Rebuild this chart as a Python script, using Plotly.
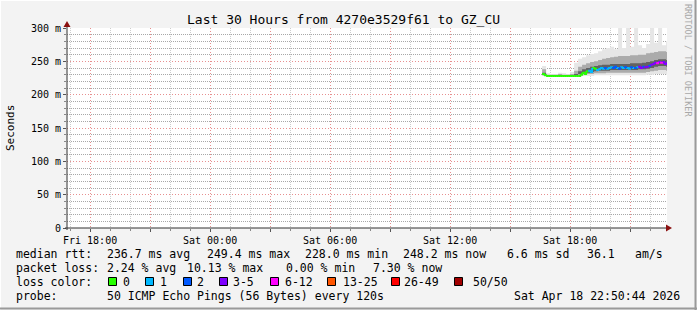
import plotly.graph_objects as go
import pandas as pd

# ---------------- data ----------------
T_START = "2026-04-17 16:50:44"
T_END = "2026-04-18 22:50:44"

# median RTT (ms), one value every 6 minutes
median_start = "2026-04-18 16:36:00"
median_ms = [231, 229,
             228, 228, 228, 228, 228, 228, 228, 228, 228, 228, 228, 228, 228, 228, 228, 228, 228,
             230, 233, 231, 235, 236, 234, 240, 239, 237, 238, 240, 239, 240, 239, 240, 241,
             240, 242, 240, 239, 241, 240, 241, 240, 239, 241, 240, 240, 241, 242, 240, 242,
             241, 242, 243, 245, 246, 248, 247, 249, 248, 249, 246, 248]
# loss class index into loss_labels for each median value
median_loss = [0, 0,
               0, 0, 0, 0, 0, 0, 0, 0, 0, 0, 0, 0, 0, 0, 0, 0, 0,
               0, 0, 0, 0, 1, 1, 0, 0, 1, 1, 1, 1, 2, 1, 1, 1,
               2, 2, 1, 2, 1, 1, 2, 1, 1, 2, 1, 2, 1, 3, 3, 2,
               3, 3, 2, 3, 3, 3, 4, 3, 4, 3, 3, 3]

# smoke (distribution of the 50 pings), one column every 12 minutes
smoke_start = "2026-04-18 16:36:00"
smoke_min = [228, 227, 227, 227, 227, 227, 227, 227, 227, 227, 228, 228, 228, 229, 229, 229,
             229, 229, 229, 229, 229, 229, 229, 229, 229, 229, 230, 230, 231, 231, 231, 230]
smoke_p10 = [229, 228, 228, 228, 228, 228, 228, 228, 228, 229, 230, 231, 231, 232, 232, 232,
             233, 233, 233, 233, 233, 233, 233, 233, 233, 233, 234, 235, 236, 237, 237, 236]
smoke_q1 = [230, 228, 228, 228, 228, 228, 228, 228, 229, 231, 232, 233, 234, 235, 236, 236,
            236, 237, 237, 237, 237, 237, 237, 237, 238, 238, 239, 240, 242, 243, 243, 242]
smoke_q3 = [233, 229, 229, 229, 229, 229, 229, 229, 231, 235, 238, 240, 242, 243, 244, 245,
            245, 246, 246, 246, 246, 246, 247, 247, 247, 248, 249, 250, 252, 253, 253, 252]
smoke_p90 = [238, 230, 230, 230, 231, 230, 230, 231, 236, 242, 245, 247, 249, 250, 252, 254,
             255, 256, 257, 258, 258, 258, 259, 259, 260, 260, 262, 263, 264, 265, 265, 264]
smoke_max = [243, 232, 231, 231, 233, 232, 231, 234, 248, 254, 256, 259, 261, 262, 265, 268,
             270, 272, 268, 300, 270, 300, 272, 300, 274, 270, 276, 300, 278, 300, 274, 280]

loss_labels = ["0", "1", "2", "3-5", "6-12", "13-25", "26-49", "50/50"]
loss_colors = ["#26ff00", "#00b8ff", "#0059ff", "#7e00ff", "#ff00ff", "#ff5500", "#ff0000", "#a10000"]

ytick_vals = [0, 50, 100, 150, 200, 250, 300]
ytick_text = ["0", "50 m", "100 m", "150 m", "200 m", "250 m", "300 m"]

xtick_vals = ["2026-04-17 18:00", "2026-04-17 21:00", "2026-04-18 00:00", "2026-04-18 03:00",
              "2026-04-18 06:00", "2026-04-18 09:00", "2026-04-18 12:00", "2026-04-18 15:00",
              "2026-04-18 18:00", "2026-04-18 21:00"]
xtick_text = ["Fri 18:00", "", "Sat 00:00", "", "Sat 06:00", "", "Sat 12:00", "", "Sat 18:00", ""]

title_text = "Last 30 Hours from 4270e3529f61 to GZ_CU"
rtt_items = ["median rtt:", "236.7 ms avg", "249.4 ms max", "228.0 ms min", "248.2 ms now",
             "6.6 ms sd", "36.1", "am/s"]
loss_items = ["packet loss:", "2.24 % avg", "10.13 % max", "0.00 % min", "7.30 % now"]
probe_items = ["probe:", "50 ICMP Echo Pings (56 Bytes) every 120s"]
stamp_text = "Sat Apr 18 22:50:44 2026"

# ---------------- geometry (pixels) ----------------
W, H = 697, 310
PL, PR, PT, PB = 67, 667, 28, 228
FONT = "DejaVu Sans Mono"


def px(x):
    return (x - PL) / (PR - PL)


def py(y):
    return (PB - y) / (PB - PT)


fig = go.Figure()

# smoke bands
t_smk = list(pd.date_range(smoke_start, periods=len(smoke_min), freq="12min")) + [pd.Timestamp(T_END)]
bands = [(smoke_min, smoke_max, "#e6e6e6"),
         (smoke_p10, smoke_p90, "#ababab"),
         (smoke_q1, smoke_q3, "#626262")]
for lo, hi, col in bands:
    fig.add_trace(go.Scatter(x=t_smk, y=lo + [lo[-1]], mode="lines", line=dict(width=0, shape="hv"),
                             hoverinfo="skip"))
    fig.add_trace(go.Scatter(x=t_smk, y=hi + [hi[-1]], mode="lines", line=dict(width=0, shape="hv"),
                             fill="tonexty", fillcolor=col, hoverinfo="skip"))

# median line coloured by loss
t_med = list(pd.date_range(median_start, periods=len(median_ms), freq="6min")) + [pd.Timestamp(T_END)]
for c, col in enumerate(loss_colors):
    xs, ys = [], []
    for i, v in enumerate(median_ms):
        if median_loss[i] != c:
            continue
        nxt = median_ms[i + 1] if i + 1 < len(median_ms) else v
        xs += [t_med[i], t_med[i + 1], t_med[i + 1], None]
        ys += [v, v, nxt, None]
    if xs:
        fig.add_trace(go.Scatter(x=xs, y=ys, mode="lines", line=dict(color=col, width=2),
                                 hoverinfo="skip"))

RED_GRID = "#e79090"
GRAY_GRID = "#cdcdcd"

# minor grid positions (every hour / every 10 ms), skipping the major ones
x_minor = [t for t in pd.date_range("2026-04-17 17:00", "2026-04-18 22:00", freq="1h")
           if t.hour % 3 != 0]
y_minor = [v for v in range(10, 300, 10) if v % 50 != 0]

fig.update_xaxes(type="date", range=[T_START, T_END], tickmode="array", tickvals=xtick_vals,
                 ticktext=xtick_text, showgrid=True, gridcolor=RED_GRID, griddash="1px,2px",
                 gridwidth=1, ticks="outside", ticklen=3, tickcolor="#555", zeroline=False,
                 showline=False, tickfont=dict(family=FONT, size=10, color="#000"),
                 minor=dict(tickmode="array", tickvals=x_minor,
                            showgrid=True, gridcolor=GRAY_GRID, griddash="1px,1px", gridwidth=1,
                            ticks="outside", ticklen=2, tickcolor="#888"))
fig.update_yaxes(range=[0, 300], tickmode="array", tickvals=ytick_vals, ticktext=ytick_text,
                 showgrid=True, gridcolor=RED_GRID, griddash="1px,2px", gridwidth=1,
                 ticks="outside", ticklen=3, tickcolor="#555", zeroline=False, showline=False,
                 tickfont=dict(family=FONT, size=10, color="#000"),
                 minor=dict(tickmode="array", tickvals=y_minor, showgrid=True,
                            gridcolor="#a8a8a8", griddash="1px,1px", gridwidth=1,
                            ticks="outside", ticklen=2, tickcolor="#888"))

shapes = []
AX = "#303030"
ARROW = "#8b1010"
# axes
shapes.append(dict(type="line", xref="paper", yref="paper", x0=px(65), x1=px(667), y0=py(228), y1=py(228),
                   line=dict(color=AX, width=1)))
shapes.append(dict(type="line", xref="paper", yref="paper", x0=px(67), x1=px(67), y0=py(230), y1=py(25),
                   line=dict(color=AX, width=1)))
# arrows
shapes.append(dict(type="path", xref="paper", yref="paper",
                   path=f"M {px(666)},{py(224.5)} L {px(672)},{py(228)} L {px(666)},{py(231.5)} Z",
                   fillcolor=ARROW, line=dict(color=ARROW, width=0)))
shapes.append(dict(type="path", xref="paper", yref="paper",
                   path=f"M {px(63.5)},{py(27)} L {px(67)},{py(21)} L {px(70.5)},{py(27)} Z",
                   fillcolor=ARROW, line=dict(color=ARROW, width=0)))
# image border
shapes.append(dict(type="line", xref="paper", yref="paper", x0=px(0), x1=px(W), y0=py(0.5), y1=py(0.5),
                   line=dict(color="#ffffff", width=1)))
shapes.append(dict(type="line", xref="paper", yref="paper", x0=px(0.5), x1=px(0.5), y0=py(0), y1=py(H),
                   line=dict(color="#ffffff", width=1)))
shapes.append(dict(type="line", xref="paper", yref="paper", x0=px(0), x1=px(W), y0=py(H - 1.5), y1=py(H - 1.5),
                   line=dict(color="#9a9a9a", width=2)))
shapes.append(dict(type="line", xref="paper", yref="paper", x0=px(W - 1.5), x1=px(W - 1.5), y0=py(0), y1=py(H),
                   line=dict(color="#9a9a9a", width=2)))

annotations = []


def text(x, y, s, size=11.5, anchor="left", angle=0, color="#000"):
    annotations.append(dict(xref="paper", yref="paper", x=px(x), y=py(y), text=s, showarrow=False,
                            xanchor=anchor, yanchor="middle", textangle=angle,
                            font=dict(family=FONT, size=size, color=color), borderpad=0, borderwidth=0))


text(343, 19, title_text, size=13, anchor="center")
text(10, 128, "Seconds", size=11, anchor="center", angle=-90)
text(688, 60, "RRDTOOL / TOBI OETIKER", size=8.5, anchor="center", angle=90, color="#a8a8a8")

rtt_x = [16, 107, 207, 305, 403, 507, 587, 635]
for x, s in zip(rtt_x, rtt_items):
    text(x, 254, s)
loss_x = [16, 107, 187, 286, 373]
for x, s in zip(loss_x, loss_items):
    text(x, 268, s)
text(16, 282, "loss color:")
sq_x = [108, 145, 183, 219, 270, 327, 391, 454]
lab_x = [123, 160, 197, 233, 285, 343, 404, 473]
for sx, lx, lab, col in zip(sq_x, lab_x, loss_labels, loss_colors):
    shapes.append(dict(type="rect", xref="paper", yref="paper", x0=px(sx + 0.5), x1=px(sx + 8.5),
                       y0=py(277.5), y1=py(285.5), fillcolor=col, line=dict(color="#000", width=1)))
    text(lx, 282, lab)
text(16, 296, probe_items[0])
text(107, 296, probe_items[1])
text(680, 296, stamp_text, anchor="right")

fig.update_layout(width=W, height=H, margin=dict(l=PL, r=W - PR, t=PT, b=H - PB, pad=0),
                  paper_bgcolor="#f3f3f3", plot_bgcolor="#ffffff", showlegend=False,
                  shapes=shapes, annotations=annotations,
                  font=dict(family=FONT, size=10, color="#000"))

fig.write_html("out.html")
